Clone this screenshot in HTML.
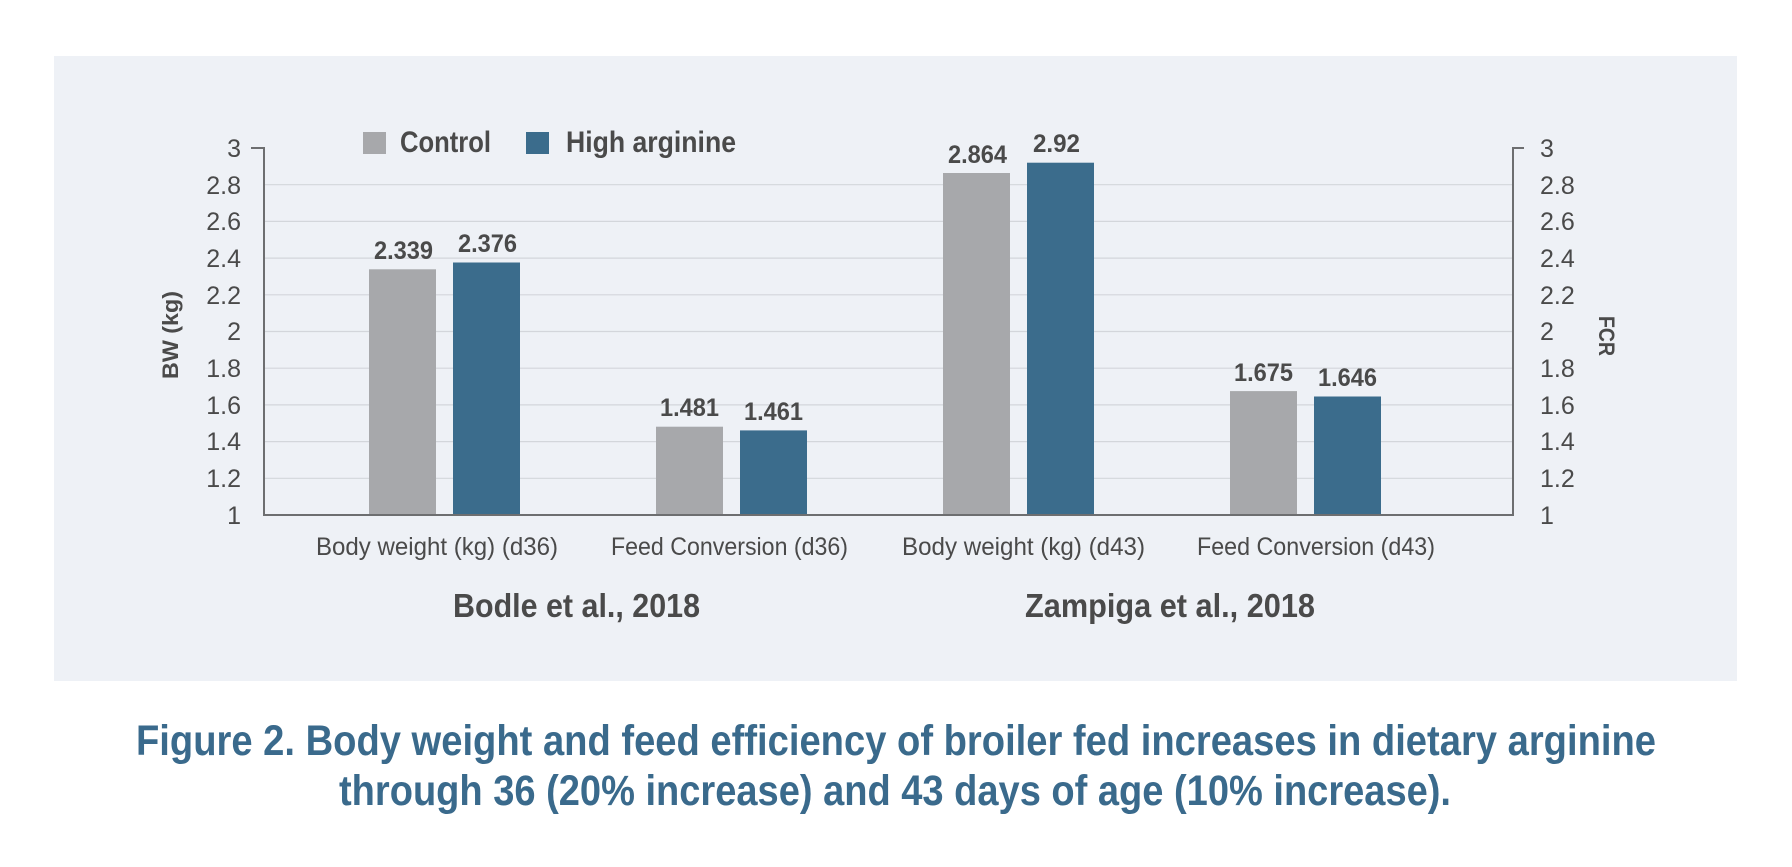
<!DOCTYPE html>
<html><head><meta charset="utf-8"><style>
html,body{margin:0;padding:0;background:#fff;}
svg{display:block;}
text{font-family:"Liberation Sans",sans-serif;}
</style></head><body>
<svg width="1792" height="867" viewBox="0 0 1792 867" xmlns="http://www.w3.org/2000/svg">
<rect x="0" y="0" width="1792" height="867" fill="#fff"/>
<rect x="54" y="56" width="1683" height="625" fill="#eef1f6"/>
<g stroke="#d3d6db" stroke-width="1.2">
<line x1="264" x2="1513" y1="184.7" y2="184.7"/>
<line x1="264" x2="1513" y1="221.4" y2="221.4"/>
<line x1="264" x2="1513" y1="258.1" y2="258.1"/>
<line x1="264" x2="1513" y1="294.8" y2="294.8"/>
<line x1="264" x2="1513" y1="331.5" y2="331.5"/>
<line x1="264" x2="1513" y1="368.2" y2="368.2"/>
<line x1="264" x2="1513" y1="404.9" y2="404.9"/>
<line x1="264" x2="1513" y1="441.6" y2="441.6"/>
<line x1="264" x2="1513" y1="478.3" y2="478.3"/>
</g>
<g fill="#a7a8ab">
<rect x="369" y="269.3" width="67" height="245.7"/>
<rect x="656" y="426.7" width="67" height="88.3"/>
<rect x="943" y="173" width="67" height="342"/>
<rect x="1230" y="391.1" width="67" height="123.9"/>
</g>
<g fill="#3b6c8c">
<rect x="453" y="262.5" width="67" height="252.5"/>
<rect x="740" y="430.4" width="67" height="84.6"/>
<rect x="1027" y="162.7" width="67" height="352.3"/>
<rect x="1314" y="396.5" width="67" height="118.5"/>
</g>
<g stroke="#6d6e70" stroke-width="2" fill="none">
<polyline points="251,148 264,148 264,515 1513,515 1513,148 1524,148"/>
</g>
<g font-size="25" fill="#4a4a4a" text-anchor="end">
<text x="241" y="157">3</text><text x="241" y="194">2.8</text><text x="241" y="230">2.6</text>
<text x="241" y="267">2.4</text><text x="241" y="304">2.2</text><text x="241" y="340">2</text>
<text x="241" y="377">1.8</text><text x="241" y="414">1.6</text><text x="241" y="450">1.4</text>
<text x="241" y="487">1.2</text><text x="241" y="524">1</text>
</g>
<g font-size="25" fill="#4a4a4a" text-anchor="start">
<text x="1540" y="157">3</text><text x="1540" y="194">2.8</text><text x="1540" y="230">2.6</text>
<text x="1540" y="267">2.4</text><text x="1540" y="304">2.2</text><text x="1540" y="340">2</text>
<text x="1540" y="377">1.8</text><text x="1540" y="414">1.6</text><text x="1540" y="450">1.4</text>
<text x="1540" y="487">1.2</text><text x="1540" y="524">1</text>
</g>
<g font-size="25" font-weight="bold" fill="#4a4a4a">
<text x="374" y="259" textLength="59" lengthAdjust="spacingAndGlyphs">2.339</text>
<text x="458" y="252" textLength="59" lengthAdjust="spacingAndGlyphs">2.376</text>
<text x="660" y="416" textLength="59" lengthAdjust="spacingAndGlyphs">1.481</text>
<text x="744" y="420" textLength="59" lengthAdjust="spacingAndGlyphs">1.461</text>
<text x="948" y="163" textLength="59" lengthAdjust="spacingAndGlyphs">2.864</text>
<text x="1033" y="152" textLength="47" lengthAdjust="spacingAndGlyphs">2.92</text>
<text x="1234" y="381" textLength="59" lengthAdjust="spacingAndGlyphs">1.675</text>
<text x="1318" y="386" textLength="59" lengthAdjust="spacingAndGlyphs">1.646</text>
</g>
<g font-size="25" fill="#4a4a4a">
<text x="316" y="555" textLength="242" lengthAdjust="spacingAndGlyphs">Body weight (kg) (d36)</text>
<text x="611" y="555" textLength="237" lengthAdjust="spacingAndGlyphs">Feed Conversion (d36)</text>
<text x="902" y="555" textLength="243" lengthAdjust="spacingAndGlyphs">Body weight (kg) (d43)</text>
<text x="1197" y="555" textLength="238" lengthAdjust="spacingAndGlyphs">Feed Conversion (d43)</text>
</g>
<g font-size="33" font-weight="bold" fill="#4a4a4a">
<text x="453" y="617" textLength="247" lengthAdjust="spacingAndGlyphs">Bodle et al., 2018</text>
<text x="1025" y="617" textLength="290" lengthAdjust="spacingAndGlyphs">Zampiga et al., 2018</text>
</g>
<rect x="363" y="132" width="23" height="22" fill="#a7a8ab"/>
<rect x="526" y="132" width="23" height="22" fill="#3b6c8c"/>
<g font-size="30" font-weight="bold" fill="#4a4a4a">
<text x="400" y="152" textLength="91" lengthAdjust="spacingAndGlyphs">Control</text>
<text x="566" y="152" textLength="170" lengthAdjust="spacingAndGlyphs">High arginine</text>
</g>
<text transform="translate(178,335) rotate(-90)" text-anchor="middle" font-size="22" font-weight="bold" fill="#4a4a4a" textLength="88" lengthAdjust="spacingAndGlyphs">BW (kg)</text>
<text transform="translate(1599,336) rotate(90)" text-anchor="middle" font-size="22" font-weight="bold" fill="#4a4a4a" textLength="40" lengthAdjust="spacingAndGlyphs">FCR</text>
<g font-size="43" font-weight="bold" fill="#3a6a8c">
<text x="136" y="755" textLength="1520" lengthAdjust="spacingAndGlyphs">Figure 2. Body weight and feed efficiency of broiler fed increases in dietary arginine</text>
<text x="339" y="805" textLength="1112" lengthAdjust="spacingAndGlyphs">through 36 (20% increase) and 43 days of age (10% increase).</text>
</g>
</svg>
</body></html>
